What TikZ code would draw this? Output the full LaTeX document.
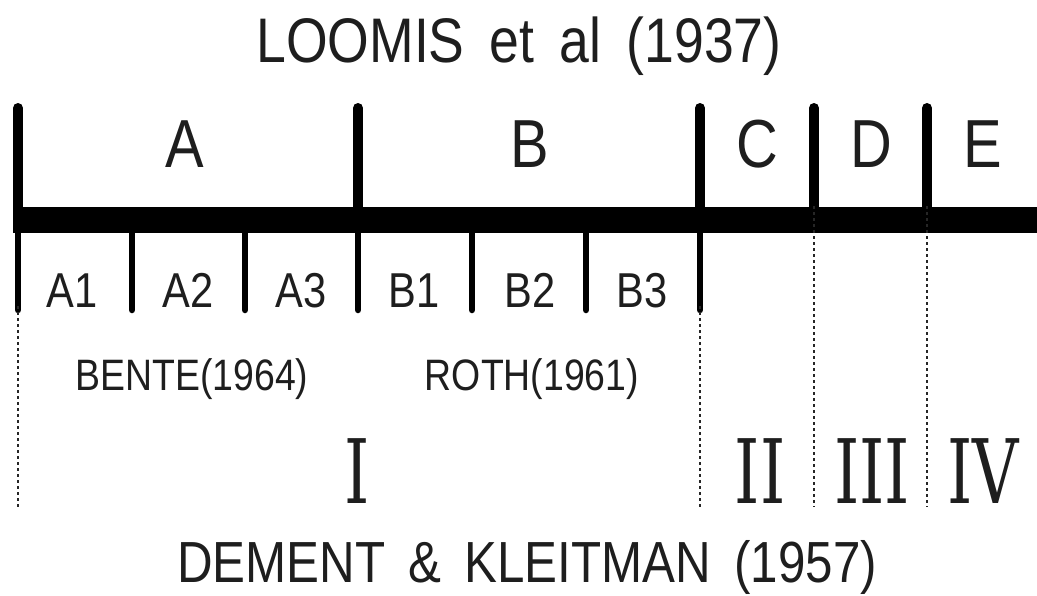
\documentclass[tikz,border=0pt]{standalone}
\usepackage{fontspec}
\usepackage{tikz}
\newfontfamily\plotfont[FakeStretch=0.85, WordSpace=1.7]{Liberation Sans}
\newfontfamily\numfont[FakeStretch=0.72]{DejaVu Serif}
\definecolor{inkgray}{RGB}{30, 30, 30}

\begin{document}
\begin{tikzpicture}[x=1pt, y=-1pt]
    % Define styles
    \tikzstyle{caption} = [anchor=base, inner sep=0pt, text=inkgray, font=\plotfont\fontsize{63}{70}\selectfont]
    \tikzstyle{stage} = [anchor=base, inner sep=0pt, text=inkgray, font=\plotfont\fontsize{68}{72}\selectfont]
    \tikzstyle{substage} = [anchor=base, inner sep=0pt, text=inkgray, font=\plotfont\fontsize{49}{54}\selectfont]
    \tikzstyle{source} = [anchor=base, inner sep=0pt, text=inkgray, font=\plotfont\fontsize{44}{48}\selectfont]
    \tikzstyle{numeral} = [anchor=base, inner sep=0pt, text=inkgray, font=\numfont\fontsize{89}{94}\selectfont]
    \tikzstyle{bar} = [draw, line width=26pt]
    \tikzstyle{bigtick} = [draw, line width=10pt, line cap=round]
    \tikzstyle{smalltick} = [draw, line width=6.5pt, line cap=round]
    \tikzstyle{divider} = [draw, black!85, line width=2.5pt, dash pattern=on 3pt off 3pt]

    \useasboundingbox (0,0) rectangle (1037,595);

    % Nodes
    \node [caption] (loomis) at (519,62) {LOOMIS et al (1937)};
    \node [stage] (a) at (185,167) {A};
    \node [stage] (b) at (530,167) {B};
    \node [stage] (c) at (757,167) {C};
    \node [stage] (d) at (871,167) {D};
    \node [stage] (e) at (983,167) {E};
    \node [substage] (a1) at (72,307) {A1};
    \node [substage] (a2) at (188,307) {A2};
    \node [substage] (a3) at (301,307) {A3};
    \node [substage] (b1) at (414,307) {B1};
    \node [substage] (b2) at (530,307) {B2};
    \node [substage] (b3) at (642,307) {B3};
    \node [source] (bente) at (192,390) {BENTE(1964)};
    \node [source] (roth) at (532,390) {ROTH(1961)};
    \node [numeral] (one) at (357,503) {I};
    \node [numeral] (two) at (760,503) {II};
    \node [numeral] (three) at (872,503) {III};
    \node [numeral] (four) at (983,503) {IV};
    \node [caption, font=\plotfont\fontsize{58}{62}\selectfont] (dement) at (527,582) {DEMENT \& KLEITMAN (1957)};

    % Axis
    \coordinate (barL) at (13,220);
    \coordinate (barR) at (1037,220);
    \coordinate (topA) at (18,108);
    \coordinate (topB) at (358,108);
    \coordinate (topC) at (700,108);
    \coordinate (topD) at (814,108);
    \coordinate (topE) at (927,108);
    \coordinate (lowA) at (18,310);
    \coordinate (lowA2) at (132,310);
    \coordinate (lowA3) at (245,310);
    \coordinate (lowB) at (358,310);
    \coordinate (lowB2) at (472,310);
    \coordinate (lowB3) at (586,310);
    \coordinate (lowC) at (700,310);
    \coordinate (endA) at (18,507);
    \coordinate (endC) at (700,507);
    \coordinate (endD) at (814,507);
    \coordinate (endE) at (927,507);

    % Connections
    \path [bigtick] (topA) -- (topA |- barL);
    \path [bigtick] (topB) -- (topB |- barL);
    \path [bigtick] (topC) -- (topC |- barL);
    \path [bigtick] (topD) -- (topD |- barL);
    \path [bigtick] (topE) -- (topE |- barL);
    \path [smalltick] (lowA |- barL) -- (lowA);
    \path [smalltick] (lowA2 |- barL) -- (lowA2);
    \path [smalltick] (lowA3 |- barL) -- (lowA3);
    \path [smalltick] (lowB |- barL) -- (lowB);
    \path [smalltick] (lowB2 |- barL) -- (lowB2);
    \path [smalltick] (lowB3 |- barL) -- (lowB3);
    \path [smalltick] (lowC |- barL) -- (lowC);
    \path [bar] (barL) -- (barR);
    \path [divider] ([yshift=4pt]lowA) -- (endA);
    \path [divider] ([yshift=4pt]lowC) -- (endC);
    \path [divider] ([yshift=14pt]endD |- barL) -- (endD);
    \path [divider] ([yshift=14pt]endE |- barL) -- (endE);
\end{tikzpicture}
\end{document}
